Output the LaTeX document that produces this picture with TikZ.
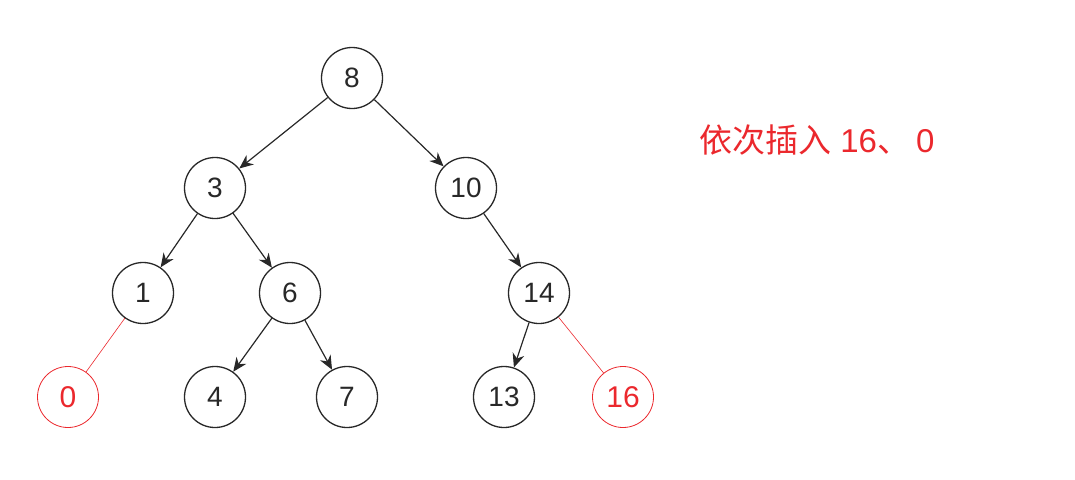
\documentclass[tikz,border=0pt]{standalone}
\usepackage{fontspec}
\setmainfont{Liberation Sans}
\newfontfamily\cjk{Noto Sans CJK SC}
\usetikzlibrary{arrows.meta}
\definecolor{ink}{RGB}{40,40,40}
\definecolor{hred}{RGB}{235,40,45}
\tikzset{
  bnode/.style={circle,draw=ink,line width=1.3pt,minimum size=61pt,inner sep=0pt,font=\fontsize{28}{28}\selectfont,text=ink},
  rnode/.style={circle,draw=hred,line width=0.8pt,minimum size=61pt,inner sep=0pt,font=\fontsize{30}{30}\selectfont,text=hred},
  arr/.style={draw=ink,line width=1.2pt,-{Stealth[length=14pt,width=12pt]}},
  rline/.style={draw=hred,line width=0.6pt}
}
\begin{document}
\begin{tikzpicture}[x=1pt,y=-1pt]
\useasboundingbox (0,0) rectangle (1075,479);
\node[bnode] (n8) at (352,78) {8};
\node[bnode] (n3) at (215,188) {3};
\node[bnode] (n10) at (466,188) {10};
\node[bnode] (n1) at (143,293) {1};
\node[bnode] (n6) at (290,293) {6};
\node[bnode] (n14) at (539,293) {14};
\node[rnode] (n0) at (68,397) {0};
\node[bnode] (n4) at (215,397) {4};
\node[bnode] (n7) at (347,397) {7};
\node[bnode] (n13) at (504,397) {13};
\node[rnode] (n16) at (623,397) {16};
\draw[arr] (n8) -- (n3);
\draw[arr] (n8) -- (n10);
\draw[arr] (n3) -- (n1);
\draw[arr] (n3) -- (n6);
\draw[arr] (n10) -- (n14);
\draw[arr] (n6) -- (n4);
\draw[arr] (n6) -- (n7);
\draw[arr] (n14) -- (n13);
\draw[rline] (n1) -- (n0);
\draw[rline] (n14) -- (n16);
\node[anchor=west,text=hred,font=\fontsize{33}{33}\selectfont,inner sep=0pt] (title) at (699,140) {{\cjk 依次插入} 16{\cjk 、}\hspace{6pt}0};
\end{tikzpicture}
\end{document}
